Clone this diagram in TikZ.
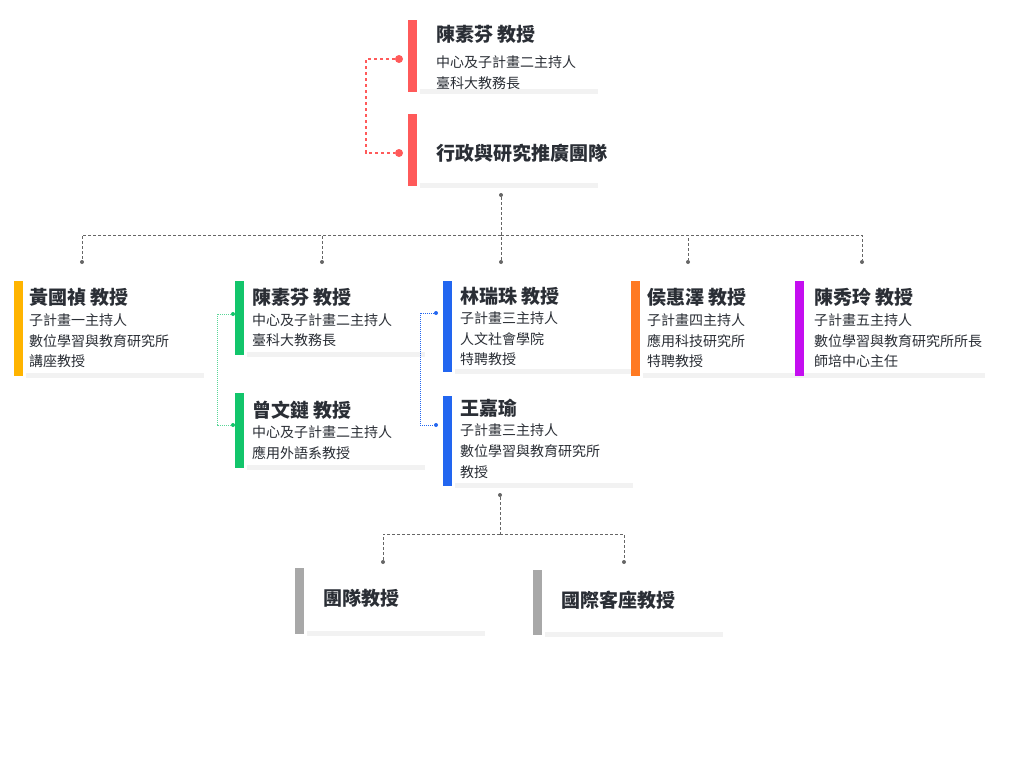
\documentclass[tikz,border=0pt]{standalone}
\usepackage{fontspec}
\setmainfont{Noto Sans CJK TC}
\usetikzlibrary{positioning}
\definecolor{cred}{HTML}{FF5A5A}
\definecolor{cyel}{HTML}{FFB400}
\definecolor{cgrn}{HTML}{12C56B}
\definecolor{cblu}{HTML}{2266F0}
\definecolor{cora}{HTML}{FF7A22}
\definecolor{cpur}{HTML}{C40EF0}
\definecolor{cgry}{HTML}{A8A8A8}
\definecolor{ctxt}{HTML}{2A2E35}
\tikzset{
  ttl/.style={anchor=west,inner sep=0pt,font=\fontsize{19}{19}\selectfont\bfseries,text=ctxt},
  sub/.style={anchor=west,inner sep=0pt,font=\fontsize{14}{14}\selectfont,text=ctxt},
  link/.style={densely dashed,line width=0.6pt,color=gray!80!black},
  pt/.style={circle,fill=gray!80!black,inner sep=0pt,minimum size=4pt},
}
\newcommand{\cardbar}[4]{% colour, x, top, bottom
  \fill[gray!10] (#2+12,#4-3) rectangle (#2+190,#4+2);
  \fill[#1] (#2,#3) rectangle (#2+9,#4);}
\begin{document}
\begin{tikzpicture}[x=1pt,y=-1pt]
      \useasboundingbox (0,0) rectangle (1024,768);
      % bars
      \cardbar{cred}{408}{20}{92}
      \cardbar{cred}{408}{114}{186}
      \cardbar{cyel}{14}{281}{376}
      \cardbar{cgrn}{235}{281}{355}
      \cardbar{cgrn}{235}{393}{468}
      \cardbar{cblu}{443}{281}{372}
      \cardbar{cblu}{443}{396}{486}
      \cardbar{cora}{631}{281}{376}
      \cardbar{cpur}{795}{281}{376}
      \cardbar{cgry}{295}{568}{634}
      \cardbar{cgry}{533}{570}{635}
      % texts
      \node[ttl] (chen) at (436,34) {陳素芬 教授};
      \node[sub] (chen1) at (436,62) {中心及子計畫二主持人};
      \node[sub] (chen2) at (436,83) {臺科大教務長};
      \node[ttl] (admin) at (436,153) {行政與研究推廣團隊};
      \node[ttl] (huang) at (29,297) {黃國禎 教授};
      \node[sub] (huang1) at (29,320) {子計畫一主持人};
      \node[sub] (huang2) at (29,341) {數位學習與教育研究所};
      \node[sub] (huang3) at (29,361) {講座教授};
      \node[ttl] (chenb) at (252,297) {陳素芬 教授};
      \node[sub] (chenb1) at (252,320) {中心及子計畫二主持人};
      \node[sub] (chenb2) at (252,340) {臺科大教務長};
      \node[ttl] (tseng) at (252,410) {曾文鏈 教授};
      \node[sub] (tseng1) at (252,432) {中心及子計畫二主持人};
      \node[sub] (tseng2) at (252,453) {應用外語系教授};
      \node[ttl] (lin) at (460,296) {林瑞珠 教授};
      \node[sub] (lin1) at (460,318) {子計畫三主持人};
      \node[sub] (lin2) at (460,339) {人文社會學院};
      \node[sub] (lin3) at (460,359) {特聘教授};
      \node[ttl] (wang) at (460,408) {王嘉瑜};
      \node[sub] (wang1) at (460,430) {子計畫三主持人};
      \node[sub] (wang2) at (460,451) {數位學習與教育研究所};
      \node[sub] (wang3) at (460,472) {教授};
      \node[ttl] (hou) at (647,297) {侯惠澤 教授};
      \node[sub] (hou1) at (647,320) {子計畫四主持人};
      \node[sub] (hou2) at (647,341) {應用科技研究所};
      \node[sub] (hou3) at (647,361) {特聘教授};
      \node[ttl] (chenx) at (814,297) {陳秀玲 教授};
      \node[sub] (chenx1) at (814,320) {子計畫五主持人};
      \node[sub] (chenx2) at (814,341) {數位學習與教育研究所所長};
      \node[sub] (chenx3) at (814,361) {師培中心主任};
      \node[ttl] (team) at (323,598) {團隊教授};
      \node[ttl] (guest) at (561,600) {國際客座教授};
      % red link
      \node[circle,fill=cred,inner sep=0pt,minimum size=8pt] (r1) at (399,59) {};
      \node[circle,fill=cred,inner sep=0pt,minimum size=8pt] (r2) at (399,153) {};
      \draw[dashed,cred,line width=1.2pt] (r1) -- (366,59) -- (366,153) -- (r2);
      % main tree
      \node[pt] (top) at (501,195) {};
      \node[pt] (d1) at (82,262) {};
      \node[pt] (d2) at (322,262) {};
      \node[pt] (d3) at (501,262) {};
      \node[pt] (d4) at (688,262) {};
      \node[pt] (d5) at (862,262) {};
      \coordinate (bus) at (501,235);
      \draw[link] (top) -- (d3);
      \foreach \d in {d1,d2,d4,d5}
        \draw[link] (bus) -| (\d);
      % green and blue links
      \node[circle,fill=cgrn,inner sep=0pt,minimum size=4pt] (g1) at (233,314) {};
      \node[circle,fill=cgrn,inner sep=0pt,minimum size=4pt] (g2) at (233,425) {};
      \draw[densely dotted,cgrn!70,line width=1pt] (g1) -- (217,314) -- (217,425) -- (g2);
      \node[circle,fill=cblu,inner sep=0pt,minimum size=4pt] (b1) at (436,313) {};
      \node[circle,fill=cblu,inner sep=0pt,minimum size=4pt] (b2) at (436,425) {};
      \draw[densely dotted,cblu,line width=1pt] (b1) -- (420,313) -- (420,425) -- (b2);
      % bottom tree
      \node[pt] (btop) at (500,495) {};
      \node[pt] (e1) at (383,562) {};
      \node[pt] (e2) at (624,562) {};
      \coordinate (bbus) at (500,534);
      \draw[link] (btop) -- (bbus);
      \draw[link] (bbus) -| (e1);
      \draw[link] (bbus) -| (e2);
\end{tikzpicture}
\end{document}
